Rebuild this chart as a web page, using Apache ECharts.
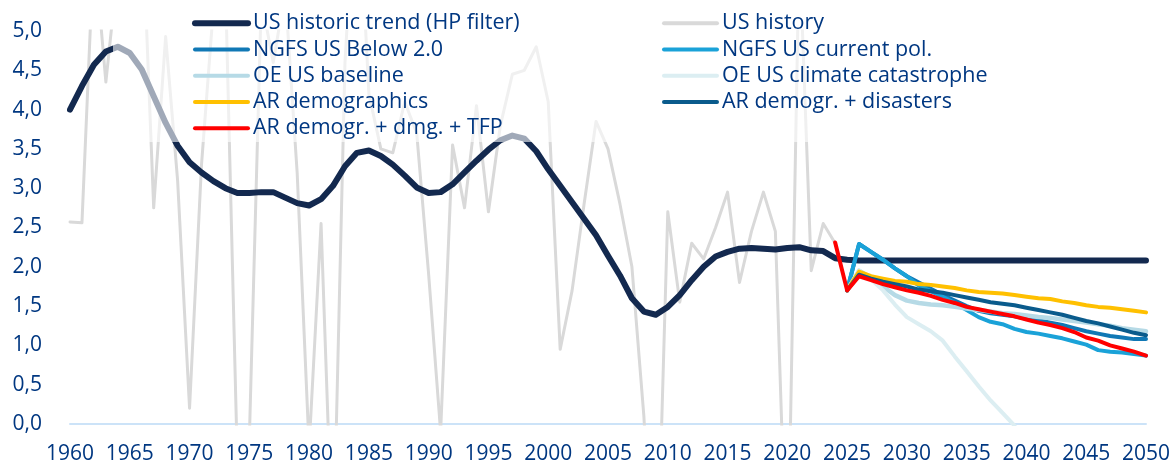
<!DOCTYPE html>
<html>
<head>
<meta charset="utf-8">
<script src="https://cdn.jsdelivr.net/npm/echarts@6.0.0/dist/echarts.min.js"></script>
<style>
  html, body { margin: 0; padding: 0; background: #fff; }
  #grafico { width: 1176px; height: 465px; }
</style>
</head>
<body>
<div id="grafico"></div>
<script>
// years on the x axis, 1960 - 2050
var anios = [];
for (var y = 1960; y <= 2050; y++) anios.push(String(y));

// US history (real GDP growth, values outside 0-5 get clipped), 1960 - 2024
var historia = [
  2.57, 2.56, 6.1, 4.35, 5.8, 6.5, 6.6, 2.75, 4.93, 3.1,
  0.2, 3.3, 5.3, 5.6, -0.5, -0.2, 5.4, 4.6, 5.5, 3.2,
  -0.3, 2.55, -1.8, 4.6, 7.2, 4.2, 3.5, 3.45, 4.1, 3.7,
  1.9, -0.1, 3.55, 2.75, 4.05, 2.7, 3.8, 4.45, 4.5, 4.8,
  4.1, 0.95, 1.7, 2.8, 3.85, 3.5, 2.8, 2.0, 0.1, -2.6,
  2.7, 1.55, 2.3, 2.1, 2.5, 2.95, 1.8, 2.45, 2.95, 2.45,
  -2.2, 6.1, 1.95, 2.55, 2.3
];

// US historic trend (HP filter), 1960 - 2050
var tendencia = [
  4.00, 4.30, 4.57, 4.74, 4.80, 4.72, 4.51, 4.17, 3.83, 3.54,
  3.33, 3.20, 3.09, 3.00, 2.94, 2.94, 2.95, 2.95, 2.88, 2.81,
  2.78, 2.86, 3.03, 3.28, 3.45, 3.48, 3.41, 3.30, 3.16, 3.01,
  2.94, 2.95, 3.05, 3.20, 3.35, 3.49, 3.61, 3.67, 3.63, 3.47,
  3.24, 3.03, 2.82, 2.61, 2.40, 2.14, 1.89, 1.60, 1.43, 1.39,
  1.49, 1.64, 1.83, 2.00, 2.13, 2.19, 2.23, 2.24, 2.23, 2.22,
  2.24, 2.25, 2.21, 2.20, 2.11, 2.09, 2.08, 2.08, 2.08, 2.08,
  2.08, 2.08, 2.08, 2.08, 2.08, 2.08, 2.08, 2.08, 2.08, 2.08,
  2.08, 2.08, 2.08, 2.08, 2.08, 2.08, 2.08, 2.08, 2.08, 2.08,
  2.08
];

// projections, 2025 - 2050
var ngfsBelow2 = [
  1.70, 2.29, 2.19, 2.09, 1.98, 1.88, 1.80, 1.72, 1.64, 1.57,
  1.50, 1.44, 1.41, 1.39, 1.37, 1.34, 1.32, 1.29, 1.26, 1.22,
  1.18, 1.15, 1.12, 1.10, 1.08, 1.08
];
var ngfsActual = [
  1.70, 2.29, 2.19, 2.09, 1.98, 1.88, 1.76, 1.69, 1.62, 1.54,
  1.45, 1.36, 1.30, 1.27, 1.21, 1.17, 1.15, 1.12, 1.09, 1.05,
  1.01, 0.94, 0.92, 0.91, 0.89, 0.87
];
var oeBase = [
  1.70, 1.95, 1.86, 1.75, 1.64, 1.57, 1.54, 1.52, 1.51, 1.49,
  1.47, 1.45, 1.43, 1.41, 1.40, 1.38, 1.36, 1.35, 1.33, 1.31,
  1.29, 1.27, 1.25, 1.22, 1.20, 1.18
];
// 2025 - 2039
var oeCatastrofe = [
  1.70, 1.95, 1.84, 1.70, 1.52, 1.36, 1.27, 1.18, 1.06, 0.86,
  0.67, 0.48, 0.30, 0.14, -0.02
];
var arDemo = [
  1.70, 1.94, 1.88, 1.85, 1.82, 1.81, 1.78, 1.77, 1.75, 1.73,
  1.70, 1.68, 1.67, 1.66, 1.64, 1.62, 1.60, 1.59, 1.56, 1.54,
  1.51, 1.49, 1.48, 1.46, 1.44, 1.42
];
var arDesastres = [
  1.70, 1.90, 1.85, 1.81, 1.78, 1.75, 1.71, 1.69, 1.67, 1.64,
  1.61, 1.58, 1.55, 1.53, 1.51, 1.48, 1.45, 1.42, 1.39, 1.35,
  1.31, 1.28, 1.24, 1.20, 1.16, 1.13
];
// 2024 - 2050
var arTfp = [
  2.31, 1.70, 1.88, 1.83, 1.78, 1.74, 1.70, 1.67, 1.63, 1.58,
  1.54, 1.49, 1.46, 1.43, 1.40, 1.37, 1.33, 1.29, 1.26, 1.22,
  1.17, 1.10, 1.06, 1.00, 0.96, 0.92, 0.87
];

var azul = "#003781";
var fuente = "'Open Sans', sans-serif";

// put a series on the full year axis, starting at anioInicio
function desde(anioInicio, valores) {
  var out = [];
  for (var i = 0; i < anios.length; i++) {
    var k = 1960 + i - anioInicio;
    out.push(k >= 0 && k < valores.length ? valores[k] : null);
  }
  return out;
}

function linea(nombre, datos, color, ancho) {
  return {
    name: nombre,
    type: "line",
    data: datos,
    symbol: "none",
    showSymbol: false,
    silent: true,
    lineStyle: { color: color, width: ancho, cap: "round", join: "round" },
    itemStyle: { color: color },
  };
}

// legend entry with its own line thickness
function item(nombre, ancho) {
  return { name: nombre, lineStyle: { width: ancho, cap: "round" } };
}

var myChart = echarts.init(document.getElementById("grafico"));

var leyenda = {
  orient: "vertical",
  top: 10,
  padding: 0,
  itemGap: 0,
  itemWidth: 53,
  itemHeight: 14,
  z: 20,
  selectedMode: false,
  itemStyle: { opacity: 0 },
  lineStyle: { width: 4, cap: "round" },
  textStyle: { color: azul, fontFamily: fuente, fontSize: 21.5, lineHeight: 26.3 },
};

var option = {
  animation: false,
  backgroundColor: "#fff",
  grid: { left: 70, right: 30, top: 31, bottom: 39, containLabel: false },
  legend: [
    Object.assign({}, leyenda, {
      left: 192,
      data: [
        item("US historic trend (HP filter)", 6),
        item("NGFS US Below 2.0", 4),
        item("OE US baseline", 4),
        item("AR demographics", 4),
        item("AR demogr. + dmg. + TFP", 4),
      ],
    }),
    Object.assign({}, leyenda, {
      left: 662,
      data: [
        item("US history", 4),
        item("NGFS US current pol.", 4),
        item("OE US climate catastrophe", 4),
        item("AR demogr. + disasters", 4),
      ],
    }),
  ],
  // semi transparent box behind the legend, it fades the lines under it
  graphic: {
    elements: [
      {
        type: "rect",
        z: 10,
        silent: true,
        shape: { x: 113, y: 0, width: 890, height: 142 },
        style: { fill: "rgba(255,255,255,0.6)" },
      },
    ],
  },
  xAxis: {
    type: "category",
    data: anios,
    boundaryGap: false,
    axisLine: { lineStyle: { color: "#CCE3F8", width: 2 } },
    axisTick: { show: false },
    axisLabel: {
      interval: 4,
      color: azul,
      fontFamily: fuente,
      fontSize: 21,
      margin: 20,
    },
    splitLine: { show: false },
  },
  yAxis: {
    type: "value",
    min: 0,
    max: 5,
    interval: 0.5,
    axisLine: { show: false },
    axisTick: { show: false },
    splitLine: { show: false },
    axisLabel: {
      color: azul,
      fontFamily: fuente,
      fontSize: 21,
      margin: 28,
      formatter: function (v) {
        return v.toFixed(1).replace(".", ",");
      },
    },
  },
  series: [
    linea("US history", desde(1960, historia), "#D9D9D9", 3),
    linea("US historic trend (HP filter)", desde(1960, tendencia), "#13294F", 6),
    linea("NGFS US Below 2.0", desde(2025, ngfsBelow2), "#1078B5", 4),
    linea("NGFS US current pol.", desde(2025, ngfsActual), "#1AA2D8", 4),
    linea("OE US baseline", desde(2025, oeBase), "#B6DAE6", 4.5),
    linea("OE US climate catastrophe", desde(2025, oeCatastrofe), "#DCEEF2", 4),
    linea("AR demographics", desde(2025, arDemo), "#FFC000", 4),
    linea("AR demogr. + disasters", desde(2025, arDesastres), "#0A5B8C", 4),
    linea("AR demogr. + dmg. + TFP", desde(2024, arTfp), "#FF0000", 4),
  ],
};

myChart.setOption(option);
</script>
</body>
</html>
